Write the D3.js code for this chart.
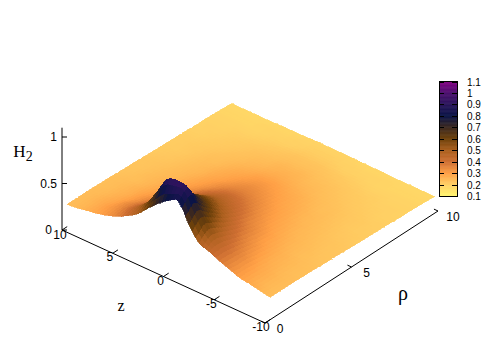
<!DOCTYPE html>
<html><head><meta charset="utf-8"><script src="https://cdn.jsdelivr.net/npm/d3@7"></script>
<style>html,body{margin:0;background:#fff}svg{display:block}</style></head><body><div id="c"></div>
<script>
const rhoValues=[0.3,0.78,1.25,1.73,2.2,2.68,3.15,3.63,4.1,4.58,5.05,5.53,6,6.48,6.95,7.43,7.9,8.38,8.85,9.33,9.8];
const absZValues=[0,1,2,3,4,5,6,7,8,9,10];
const edgeNegZ=[.78,.82,.62,.47,.43,.38,.34,.30,.28,.26,.24];
const h2Rows=[
[.78,.70,.60,.49,.42,.36,.32,.29,.27,.25,.24],
[.93,.90,.71,.55,.45,.38,.33,.30,.27,.25,.24],
[.80,.76,.64,.52,.43,.37,.33,.29,.27,.25,.24],
[.68,.65,.57,.47,.40,.35,.31,.28,.26,.245,.24],
[.60,.57,.50,.43,.37,.33,.30,.27,.255,.24,.235],
[.53,.50,.45,.39,.35,.31,.285,.265,.25,.24,.235],
[.47,.45,.41,.36,.33,.30,.275,.255,.24,.235,.23],
[.43,.41,.38,.34,.31,.285,.265,.25,.24,.23,.225],
[.39,.38,.35,.32,.295,.275,.255,.245,.235,.225,.225],
[.36,.35,.33,.305,.285,.265,.25,.24,.23,.225,.22],
[.34,.33,.31,.29,.275,.255,.245,.235,.225,.22,.215],
[.32,.31,.295,.28,.265,.25,.24,.23,.22,.215,.21],
[.30,.295,.28,.27,.255,.24,.235,.225,.215,.21,.21],
[.28,.275,.265,.255,.245,.235,.23,.22,.215,.21,.205],
[.265,.26,.25,.245,.235,.23,.22,.215,.21,.205,.205],
[.25,.25,.24,.235,.23,.22,.215,.21,.205,.20,.20],
[.235,.235,.23,.225,.22,.215,.21,.205,.20,.20,.195],
[.225,.225,.22,.215,.21,.205,.20,.20,.195,.195,.195],
[.21,.21,.205,.20,.20,.195,.19,.19,.19,.19,.19],
[.20,.20,.195,.195,.19,.19,.19,.185,.185,.185,.185],
[.19,.19,.19,.185,.185,.185,.18,.18,.18,.18,.18]];
const colorDomain=[.1,.2,.3,.4,.5,.6,.7,.8,.9,1,1.1];
const colorRange=["#fff56e","#ffd064","#ffa046","#cd6e32","#aa5f1e","#6e410a","#3c281e","#0a1446","#28145a","#4b0f6e","#820082"];
const zTicks=[10,5,0,-5,-10], rhoTicks=[0,5,10], hTicks=[0,.5,1];
const barTicks=[.1,.2,.3,.4,.5,.6,.7,.8,.9,1,1.1];

const svg=d3.select("#c").append("svg").attr("width",500).attr("height",350);
const color=d3.scaleLinear().domain(colorDomain).range(colorRange).clamp(true);
const zx=d3.scaleLinear().domain([10,-10]).range([0,203]);
const zy=d3.scaleLinear().domain([10,-10]).range([0,93]);
const rx=d3.scaleLinear().domain([0,10]).range([0,173]);
const ry=d3.scaleLinear().domain([0,10]).range([0,-112]);
const hs=d3.scaleLinear().domain([0,1]).range([0,-93]);
const P=(z,r,h)=>[62+zx(z)+rx(r),230+zy(z)+ry(r)+hs(h)];

const val=(ri,zs)=>{ri=Math.max(0,Math.min(rhoValues.length-1,ri));const a=Math.min(10,Math.abs(zs));
  if(ri===0&&zs<0)return edgeNegZ[a];return h2Rows[ri][a];};
const cr=(a,b,c,d,t)=>0.5*(2*b+(c-a)*t+(2*a-5*b+4*c-d)*t*t+(3*b-a-3*c+d)*t*t*t);
const sub=3, cells=[], pts=[];
const nR=rhoValues.length, nZ=21;
function sample(ri,zi){
  const r0=Math.floor(ri), z0=Math.floor(zi), tr=ri-r0, tz=zi-z0, col=[];
  for(let a=-1;a<=2;a++){
    col.push(cr(val(r0+a,z0-1-10),val(r0+a,z0-10),val(r0+a,z0+1-10),val(r0+a,z0+2-10),tz));
  }
  return cr(col[0],col[1],col[2],col[3],tr);
}
const rhoAt=d3.scaleLinear().domain(d3.range(nR)).range(rhoValues);
for(let i=0;i<=(nR-1)*sub;i++){pts[i]=[];for(let j=0;j<=(nZ-1)*sub;j++){
  const ri=i/sub, zi=j/sub, r=rhoAt(ri), z=zi-10;
  pts[i][j]={z,r,h:sample(ri,zi)};
}}
for(let i=0;i<(nR-1)*sub;i++)for(let j=0;j<(nZ-1)*sub;j++){
  const q=[pts[i][j],pts[i+1][j],pts[i+1][j+1],pts[i][j+1]];
  cells.push({q,h:d3.mean(q,d=>d.h),d:d3.mean(q,d=>zy(d.z)+ry(d.r))});
}
cells.sort((a,b)=>d3.ascending(a.d,b.d));
svg.append("g").selectAll("path").data(cells).join("path")
 .attr("d",c=>"M"+c.q.map(p=>P(p.z,p.r,p.h).map(v=>v.toFixed(1)).join(",")).join("L")+"Z")
 .attr("fill",c=>color(c.h)).attr("stroke",c=>color(c.h)).attr("stroke-width",.7)
 .attr("shape-rendering","crispEdges");

const ax=svg.append("g").attr("stroke","#000").attr("stroke-width",1).attr("fill","none");
const ln=(a,b)=>ax.append("line").attr("x1",a[0]).attr("y1",a[1]).attr("x2",b[0]).attr("y2",b[1]);
ln(P(10,0,0),P(-10,0,0)); ln(P(-10,0,0),P(-10,10,0)); ln(P(10,0,0),P(10,0,1.1));
zTicks.forEach(z=>ln(P(z,0,0),P(z,.3,0)));
rhoTicks.forEach(r=>ln(P(-10,r,0),P(-9.6,r,0)));
hTicks.forEach(h=>{const p=P(10,0,h);ln(p,[p[0]+5,p[1]]);});

const tx=(s,x,y,o={})=>svg.append("text").text(s).attr("x",x).attr("y",y).attr("text-anchor",o.a||"middle")
 .attr("font-family",o.f||"'Liberation Serif'").attr("font-size",o.s||13).attr("font-weight",o.w||"normal").attr("fill","#000");
hTicks.forEach(h=>{const p=P(10,0,h);tx(String(h),p[0]-(h==0?10:5),p[1]+4,{a:"end",f:"'Liberation Sans'",s:12});});
zTicks.forEach(z=>{const p=P(z,0,0);tx(String(z),p[0]+(z==10?-2:z==-10?-4:-3),p[1]+(z==10?9:8),{f:"'Liberation Sans'",s:12});});
rhoTicks.forEach(r=>{const p=P(-10,r,0);tx(String(r),p[0]+15,p[1]+(r==0?10:10),{f:"'Liberation Sans'",s:12});});
tx("z",121,311,{s:16});
tx("ρ",403,300,{s:20});
const h=tx("H",23,157,{s:17}); h.append("tspan").text("2").attr("dy",4).attr("font-size",14);

const barY=d3.scaleLinear().domain([.1,1.1]).range([196,81.5]);
const barG=svg.append("g");
barG.selectAll("rect").data(d3.range(.1,1.1,.005)).join("rect")
 .attr("x",439).attr("width",18).attr("y",d=>barY(d+.005)).attr("height",d=>barY(d)-barY(d+.005)+.5).attr("fill",d=>color(d));
barG.append("rect").attr("x",439.5).attr("y",81.5).attr("width",18).attr("height",115).attr("fill","none").attr("stroke","#000");
barG.selectAll(".t").data(barTicks).join("g").each(function(d){
  const y=Math.round(barY(d))+.5, g=d3.select(this);
  g.append("line").attr("x1",439).attr("x2",444).attr("y1",y).attr("y2",y).attr("stroke","#000");
  g.append("line").attr("x1",452).attr("x2",457).attr("y1",y).attr("y2",y).attr("stroke","#000");
  g.append("text").text(d).attr("x",467).attr("y",y+3.5).attr("font-family","'Liberation Sans'").attr("font-size",10).attr("fill","#000");
});
</script></body></html>
